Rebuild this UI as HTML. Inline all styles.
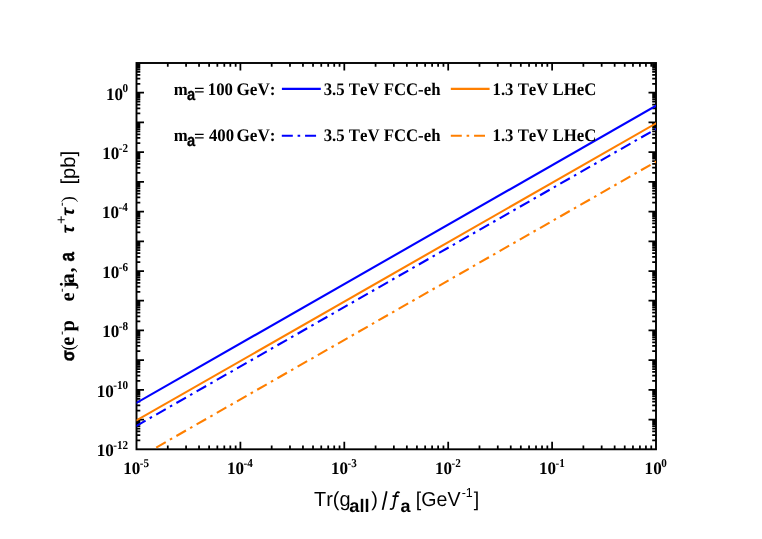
<!DOCTYPE html>
<html><head><meta charset="utf-8"><title>plot</title>
<style>
html,body{margin:0;padding:0;background:#fff;}
svg{display:block;will-change:transform;}
text{fill:#000;font-kerning:none;text-rendering:geometricPrecision;}
</style></head>
<body>
<svg width="762" height="539" viewBox="0 0 762 539">
<rect x="0" y="0" width="762" height="539" fill="#ffffff"/>
<defs><clipPath id="cp"><rect x="136.5" y="63.0" width="519.5" height="385.40"/></clipPath></defs>
<path d="M167.78 449.30L167.78 445.50M167.78 63.00L167.78 66.80M186.07 449.30L186.07 445.50M186.07 63.00L186.07 66.80M199.05 449.30L199.05 445.50M199.05 63.00L199.05 66.80M209.12 449.30L209.12 445.50M209.12 63.00L209.12 66.80M217.35 449.30L217.35 445.50M217.35 63.00L217.35 66.80M224.31 449.30L224.31 445.50M224.31 63.00L224.31 66.80M230.33 449.30L230.33 445.50M230.33 63.00L230.33 66.80M235.65 449.30L235.65 445.50M235.65 63.00L235.65 66.80M240.40 449.30L240.40 441.80M240.40 63.00L240.40 70.50M271.68 449.30L271.68 445.50M271.68 63.00L271.68 66.80M289.97 449.30L289.97 445.50M289.97 63.00L289.97 66.80M302.95 449.30L302.95 445.50M302.95 63.00L302.95 66.80M313.02 449.30L313.02 445.50M313.02 63.00L313.02 66.80M321.25 449.30L321.25 445.50M321.25 63.00L321.25 66.80M328.21 449.30L328.21 445.50M328.21 63.00L328.21 66.80M334.23 449.30L334.23 445.50M334.23 63.00L334.23 66.80M339.55 449.30L339.55 445.50M339.55 63.00L339.55 66.80M344.30 449.30L344.30 441.80M344.30 63.00L344.30 70.50M375.58 449.30L375.58 445.50M375.58 63.00L375.58 66.80M393.87 449.30L393.87 445.50M393.87 63.00L393.87 66.80M406.85 449.30L406.85 445.50M406.85 63.00L406.85 66.80M416.92 449.30L416.92 445.50M416.92 63.00L416.92 66.80M425.15 449.30L425.15 445.50M425.15 63.00L425.15 66.80M432.11 449.30L432.11 445.50M432.11 63.00L432.11 66.80M438.13 449.30L438.13 445.50M438.13 63.00L438.13 66.80M443.45 449.30L443.45 445.50M443.45 63.00L443.45 66.80M448.20 449.30L448.20 441.80M448.20 63.00L448.20 70.50M479.48 449.30L479.48 445.50M479.48 63.00L479.48 66.80M497.77 449.30L497.77 445.50M497.77 63.00L497.77 66.80M510.75 449.30L510.75 445.50M510.75 63.00L510.75 66.80M520.82 449.30L520.82 445.50M520.82 63.00L520.82 66.80M529.05 449.30L529.05 445.50M529.05 63.00L529.05 66.80M536.01 449.30L536.01 445.50M536.01 63.00L536.01 66.80M542.03 449.30L542.03 445.50M542.03 63.00L542.03 66.80M547.35 449.30L547.35 445.50M547.35 63.00L547.35 66.80M552.10 449.30L552.10 441.80M552.10 63.00L552.10 70.50M583.38 449.30L583.38 445.50M583.38 63.00L583.38 66.80M601.67 449.30L601.67 445.50M601.67 63.00L601.67 66.80M614.65 449.30L614.65 445.50M614.65 63.00L614.65 66.80M624.72 449.30L624.72 445.50M624.72 63.00L624.72 66.80M632.95 449.30L632.95 445.50M632.95 63.00L632.95 66.80M639.91 449.30L639.91 445.50M639.91 63.00L639.91 66.80M645.93 449.30L645.93 445.50M645.93 63.00L645.93 66.80M651.25 449.30L651.25 445.50M651.25 63.00L651.25 66.80M136.50 440.35L140.30 440.35M656.00 440.35L652.20 440.35M136.50 435.12L140.30 435.12M656.00 435.12L652.20 435.12M136.50 431.41L140.30 431.41M656.00 431.41L652.20 431.41M136.50 428.53L140.30 428.53M656.00 428.53L652.20 428.53M136.50 426.18L140.30 426.18M656.00 426.18L652.20 426.18M136.50 424.19L140.30 424.19M656.00 424.19L652.20 424.19M136.50 422.46L140.30 422.46M656.00 422.46L652.20 422.46M136.50 420.94L140.30 420.94M656.00 420.94L652.20 420.94M136.50 419.58L144.00 419.58M656.00 419.58L648.50 419.58M136.50 410.64L140.30 410.64M656.00 410.64L652.20 410.64M136.50 405.41L140.30 405.41M656.00 405.41L652.20 405.41M136.50 401.69L140.30 401.69M656.00 401.69L652.20 401.69M136.50 398.81L140.30 398.81M656.00 398.81L652.20 398.81M136.50 396.46L140.30 396.46M656.00 396.46L652.20 396.46M136.50 394.47L140.30 394.47M656.00 394.47L652.20 394.47M136.50 392.75L140.30 392.75M656.00 392.75L652.20 392.75M136.50 391.23L140.30 391.23M656.00 391.23L652.20 391.23M136.50 389.87L144.00 389.87M656.00 389.87L648.50 389.87M136.50 380.92L140.30 380.92M656.00 380.92L652.20 380.92M136.50 375.69L140.30 375.69M656.00 375.69L652.20 375.69M136.50 371.98L140.30 371.98M656.00 371.98L652.20 371.98M136.50 369.10L140.30 369.10M656.00 369.10L652.20 369.10M136.50 366.75L140.30 366.75M656.00 366.75L652.20 366.75M136.50 364.76L140.30 364.76M656.00 364.76L652.20 364.76M136.50 363.03L140.30 363.03M656.00 363.03L652.20 363.03M136.50 361.51L140.30 361.51M656.00 361.51L652.20 361.51M136.50 360.15L144.00 360.15M656.00 360.15L648.50 360.15M136.50 351.21L140.30 351.21M656.00 351.21L652.20 351.21M136.50 345.98L140.30 345.98M656.00 345.98L652.20 345.98M136.50 342.26L140.30 342.26M656.00 342.26L652.20 342.26M136.50 339.38L140.30 339.38M656.00 339.38L652.20 339.38M136.50 337.03L140.30 337.03M656.00 337.03L652.20 337.03M136.50 335.04L140.30 335.04M656.00 335.04L652.20 335.04M136.50 333.32L140.30 333.32M656.00 333.32L652.20 333.32M136.50 331.80L140.30 331.80M656.00 331.80L652.20 331.80M136.50 330.44L144.00 330.44M656.00 330.44L648.50 330.44M136.50 321.49L140.30 321.49M656.00 321.49L652.20 321.49M136.50 316.26L140.30 316.26M656.00 316.26L652.20 316.26M136.50 312.55L140.30 312.55M656.00 312.55L652.20 312.55M136.50 309.67L140.30 309.67M656.00 309.67L652.20 309.67M136.50 307.32L140.30 307.32M656.00 307.32L652.20 307.32M136.50 305.33L140.30 305.33M656.00 305.33L652.20 305.33M136.50 303.60L140.30 303.60M656.00 303.60L652.20 303.60M136.50 302.08L140.30 302.08M656.00 302.08L652.20 302.08M136.50 300.72L144.00 300.72M656.00 300.72L648.50 300.72M136.50 291.78L140.30 291.78M656.00 291.78L652.20 291.78M136.50 286.55L140.30 286.55M656.00 286.55L652.20 286.55M136.50 282.83L140.30 282.83M656.00 282.83L652.20 282.83M136.50 279.95L140.30 279.95M656.00 279.95L652.20 279.95M136.50 277.60L140.30 277.60M656.00 277.60L652.20 277.60M136.50 275.61L140.30 275.61M656.00 275.61L652.20 275.61M136.50 273.89L140.30 273.89M656.00 273.89L652.20 273.89M136.50 272.37L140.30 272.37M656.00 272.37L652.20 272.37M136.50 271.01L144.00 271.01M656.00 271.01L648.50 271.01M136.50 262.06L140.30 262.06M656.00 262.06L652.20 262.06M136.50 256.83L140.30 256.83M656.00 256.83L652.20 256.83M136.50 253.12L140.30 253.12M656.00 253.12L652.20 253.12M136.50 250.24L140.30 250.24M656.00 250.24L652.20 250.24M136.50 247.88L140.30 247.88M656.00 247.88L652.20 247.88M136.50 245.90L140.30 245.90M656.00 245.90L652.20 245.90M136.50 244.17L140.30 244.17M656.00 244.17L652.20 244.17M136.50 242.65L140.30 242.65M656.00 242.65L652.20 242.65M136.50 241.29L144.00 241.29M656.00 241.29L648.50 241.29M136.50 232.35L140.30 232.35M656.00 232.35L652.20 232.35M136.50 227.11L140.30 227.11M656.00 227.11L652.20 227.11M136.50 223.40L140.30 223.40M656.00 223.40L652.20 223.40M136.50 220.52L140.30 220.52M656.00 220.52L652.20 220.52M136.50 218.17L140.30 218.17M656.00 218.17L652.20 218.17M136.50 216.18L140.30 216.18M656.00 216.18L652.20 216.18M136.50 214.46L140.30 214.46M656.00 214.46L652.20 214.46M136.50 212.94L140.30 212.94M656.00 212.94L652.20 212.94M136.50 211.58L144.00 211.58M656.00 211.58L648.50 211.58M136.50 202.63L140.30 202.63M656.00 202.63L652.20 202.63M136.50 197.40L140.30 197.40M656.00 197.40L652.20 197.40M136.50 193.69L140.30 193.69M656.00 193.69L652.20 193.69M136.50 190.81L140.30 190.81M656.00 190.81L652.20 190.81M136.50 188.45L140.30 188.45M656.00 188.45L652.20 188.45M136.50 186.46L140.30 186.46M656.00 186.46L652.20 186.46M136.50 184.74L140.30 184.74M656.00 184.74L652.20 184.74M136.50 183.22L140.30 183.22M656.00 183.22L652.20 183.22M136.50 181.86L144.00 181.86M656.00 181.86L648.50 181.86M136.50 172.92L140.30 172.92M656.00 172.92L652.20 172.92M136.50 167.68L140.30 167.68M656.00 167.68L652.20 167.68M136.50 163.97L140.30 163.97M656.00 163.97L652.20 163.97M136.50 161.09L140.30 161.09M656.00 161.09L652.20 161.09M136.50 158.74L140.30 158.74M656.00 158.74L652.20 158.74M136.50 156.75L140.30 156.75M656.00 156.75L652.20 156.75M136.50 155.03L140.30 155.03M656.00 155.03L652.20 155.03M136.50 153.51L140.30 153.51M656.00 153.51L652.20 153.51M136.50 152.15L144.00 152.15M656.00 152.15L648.50 152.15M136.50 143.20L140.30 143.20M656.00 143.20L652.20 143.20M136.50 137.97L140.30 137.97M656.00 137.97L652.20 137.97M136.50 134.26L140.30 134.26M656.00 134.26L652.20 134.26M136.50 131.38L140.30 131.38M656.00 131.38L652.20 131.38M136.50 129.02L140.30 129.02M656.00 129.02L652.20 129.02M136.50 127.03L140.30 127.03M656.00 127.03L652.20 127.03M136.50 125.31L140.30 125.31M656.00 125.31L652.20 125.31M136.50 123.79L140.30 123.79M656.00 123.79L652.20 123.79M136.50 122.43L144.00 122.43M656.00 122.43L648.50 122.43M136.50 113.49L140.30 113.49M656.00 113.49L652.20 113.49M136.50 108.25L140.30 108.25M656.00 108.25L652.20 108.25M136.50 104.54L140.30 104.54M656.00 104.54L652.20 104.54M136.50 101.66L140.30 101.66M656.00 101.66L652.20 101.66M136.50 99.31L140.30 99.31M656.00 99.31L652.20 99.31M136.50 97.32L140.30 97.32M656.00 97.32L652.20 97.32M136.50 95.60L140.30 95.60M656.00 95.60L652.20 95.60M136.50 94.08L140.30 94.08M656.00 94.08L652.20 94.08M136.50 92.72L144.00 92.72M656.00 92.72L648.50 92.72M136.50 83.77L140.30 83.77M656.00 83.77L652.20 83.77M136.50 78.54L140.30 78.54M656.00 78.54L652.20 78.54M136.50 74.82L140.30 74.82M656.00 74.82L652.20 74.82M136.50 71.95L140.30 71.95M656.00 71.95L652.20 71.95M136.50 69.59L140.30 69.59M656.00 69.59L652.20 69.59M136.50 67.60L140.30 67.60M656.00 67.60L652.20 67.60M136.50 65.88L140.30 65.88M656.00 65.88L652.20 65.88M136.50 64.36L140.30 64.36M656.00 64.36L652.20 64.36" stroke="#000" stroke-width="1.75" fill="none"/>
<rect x="136.5" y="63.0" width="519.5" height="386.3" fill="none" stroke="#000" stroke-width="1.9"/>
<g clip-path="url(#cp)">
<line x1="136.0" y1="403.19" x2="657.0" y2="105.23" stroke="#0000ff" stroke-width="2.1" fill="none"/>
<line x1="136.0" y1="420.69" x2="657.0" y2="122.83" stroke="#ff7f00" stroke-width="2.1" fill="none"/>
<line x1="136.0" y1="426.09" x2="657.0" y2="128.43" stroke="#0000ff" stroke-width="2.1" stroke-dasharray="11 4.8 2.6 4.87" fill="none"/>
<line x1="136.0" y1="459.09" x2="657.0" y2="161.13" stroke="#ff7f00" stroke-width="2.1" stroke-dasharray="11 4.8 2.6 4.87" fill="none"/>
</g>
<text transform="translate(123.23,473.90) scale(0.97,1.001)" style='font-family:"Liberation Serif",serif;font-weight:bold;font-style:normal;font-size:17.6px'>10</text>
<text transform="translate(139.81,466.50) scale(0.93,1.001)" style='font-family:"Liberation Serif",serif;font-weight:bold;font-style:normal;font-size:12px'>-5</text>
<text transform="translate(227.03,473.90) scale(0.97,1.001)" style='font-family:"Liberation Serif",serif;font-weight:bold;font-style:normal;font-size:17.6px'>10</text>
<text transform="translate(243.61,466.50) scale(0.93,1.001)" style='font-family:"Liberation Serif",serif;font-weight:bold;font-style:normal;font-size:12px'>-4</text>
<text transform="translate(331.02,473.90) scale(0.97,1.001)" style='font-family:"Liberation Serif",serif;font-weight:bold;font-style:normal;font-size:17.6px'>10</text>
<text transform="translate(347.59,466.50) scale(0.93,1.001)" style='font-family:"Liberation Serif",serif;font-weight:bold;font-style:normal;font-size:12px'>-3</text>
<text transform="translate(434.97,473.90) scale(0.97,1.001)" style='font-family:"Liberation Serif",serif;font-weight:bold;font-style:normal;font-size:17.6px'>10</text>
<text transform="translate(451.54,466.50) scale(0.93,1.001)" style='font-family:"Liberation Serif",serif;font-weight:bold;font-style:normal;font-size:12px'>-2</text>
<text transform="translate(538.92,473.90) scale(0.97,1.001)" style='font-family:"Liberation Serif",serif;font-weight:bold;font-style:normal;font-size:17.6px'>10</text>
<text transform="translate(555.49,466.50) scale(0.93,1.001)" style='font-family:"Liberation Serif",serif;font-weight:bold;font-style:normal;font-size:12px'>-1</text>
<text transform="translate(644.61,473.90) scale(0.97,1.001)" style='font-family:"Liberation Serif",serif;font-weight:bold;font-style:normal;font-size:17.6px'>10</text>
<text transform="translate(661.16,466.50) scale(0.93,1.001)" style='font-family:"Liberation Serif",serif;font-weight:bold;font-style:normal;font-size:12px'>0</text>
<text transform="translate(96.72,456.20) scale(0.97,1.001)" style='font-family:"Liberation Serif",serif;font-weight:bold;font-style:normal;font-size:17.6px'>10</text>
<text transform="translate(113.29,448.80) scale(0.93,1.001)" style='font-family:"Liberation Serif",serif;font-weight:bold;font-style:normal;font-size:12px'>-12</text>
<text transform="translate(96.68,396.77) scale(0.97,1.001)" style='font-family:"Liberation Serif",serif;font-weight:bold;font-style:normal;font-size:17.6px'>10</text>
<text transform="translate(113.25,389.37) scale(0.93,1.001)" style='font-family:"Liberation Serif",serif;font-weight:bold;font-style:normal;font-size:12px'>-10</text>
<text transform="translate(102.20,337.34) scale(0.97,1.001)" style='font-family:"Liberation Serif",serif;font-weight:bold;font-style:normal;font-size:17.6px'>10</text>
<text transform="translate(118.77,329.94) scale(0.93,1.001)" style='font-family:"Liberation Serif",serif;font-weight:bold;font-style:normal;font-size:12px'>-8</text>
<text transform="translate(102.16,277.91) scale(0.97,1.001)" style='font-family:"Liberation Serif",serif;font-weight:bold;font-style:normal;font-size:17.6px'>10</text>
<text transform="translate(118.73,270.51) scale(0.93,1.001)" style='font-family:"Liberation Serif",serif;font-weight:bold;font-style:normal;font-size:12px'>-6</text>
<text transform="translate(102.03,218.48) scale(0.97,1.001)" style='font-family:"Liberation Serif",serif;font-weight:bold;font-style:normal;font-size:17.6px'>10</text>
<text transform="translate(118.60,211.08) scale(0.93,1.001)" style='font-family:"Liberation Serif",serif;font-weight:bold;font-style:normal;font-size:12px'>-4</text>
<text transform="translate(102.30,159.05) scale(0.97,1.001)" style='font-family:"Liberation Serif",serif;font-weight:bold;font-style:normal;font-size:17.6px'>10</text>
<text transform="translate(118.87,151.65) scale(0.93,1.001)" style='font-family:"Liberation Serif",serif;font-weight:bold;font-style:normal;font-size:12px'>-2</text>
<text transform="translate(105.99,99.62) scale(0.97,1.001)" style='font-family:"Liberation Serif",serif;font-weight:bold;font-style:normal;font-size:17.6px'>10</text>
<text transform="translate(122.54,92.22) scale(0.93,1.001)" style='font-family:"Liberation Serif",serif;font-weight:bold;font-style:normal;font-size:12px'>0</text>
<text transform="translate(173.76,94.90) scale(1.0,1.055)" style='font-family:"Liberation Serif",serif;font-weight:bold;font-style:normal;font-size:16.75px'>m</text>
<text transform="translate(186.98,99.60) scale(0.86,1.0)" style='font-family:"Liberation Sans",sans-serif;font-weight:bold;font-style:normal;font-size:17px;stroke:#000;stroke-width:0.3px'>a</text>
<text transform="translate(193.88,95.90) scale(1.12,1.055)" style='font-family:"Liberation Serif",serif;font-weight:bold;font-style:normal;font-size:16.75px'>=</text>
<text transform="translate(207.76,94.90) scale(1.0,1.055)" style='font-family:"Liberation Serif",serif;font-weight:bold;font-style:normal;font-size:16.75px'>100</text>
<text transform="translate(236.48,94.90) scale(1.025,1.055)" style='font-family:"Liberation Serif",serif;font-weight:bold;font-style:normal;font-size:16.75px'>GeV:</text>
<text transform="translate(323.68,94.90) scale(1.0,1.055)" style='font-family:"Liberation Serif",serif;font-weight:bold;font-style:normal;font-size:16.75px'>3.5 TeV FCC-eh</text>
<text transform="translate(492.56,94.90) scale(1.0,1.055)" style='font-family:"Liberation Serif",serif;font-weight:bold;font-style:normal;font-size:16.75px'>1.3 TeV LHeC</text>
<text transform="translate(173.76,141.10) scale(1.0,1.055)" style='font-family:"Liberation Serif",serif;font-weight:bold;font-style:normal;font-size:16.75px'>m</text>
<text transform="translate(186.98,145.80) scale(0.86,1.0)" style='font-family:"Liberation Sans",sans-serif;font-weight:bold;font-style:normal;font-size:17px;stroke:#000;stroke-width:0.3px'>a</text>
<text transform="translate(193.88,142.10) scale(1.12,1.055)" style='font-family:"Liberation Serif",serif;font-weight:bold;font-style:normal;font-size:16.75px'>=</text>
<text transform="translate(208.88,141.10) scale(1.0,1.055)" style='font-family:"Liberation Serif",serif;font-weight:bold;font-style:normal;font-size:16.75px'>400</text>
<text transform="translate(236.48,141.10) scale(1.025,1.055)" style='font-family:"Liberation Serif",serif;font-weight:bold;font-style:normal;font-size:16.75px'>GeV:</text>
<text transform="translate(323.68,141.10) scale(1.0,1.055)" style='font-family:"Liberation Serif",serif;font-weight:bold;font-style:normal;font-size:16.75px'>3.5 TeV FCC-eh</text>
<text transform="translate(492.56,141.10) scale(1.0,1.055)" style='font-family:"Liberation Serif",serif;font-weight:bold;font-style:normal;font-size:16.75px'>1.3 TeV LHeC</text>
<line x1="281.9" y1="88.9" x2="320.8" y2="88.9" stroke="#0000ff" stroke-width="2.1"/>
<line x1="450.8" y1="88.9" x2="489.6" y2="88.9" stroke="#ff7f00" stroke-width="2.1"/>
<line x1="281.8" y1="135.7" x2="316.4" y2="135.7" stroke="#0000ff" stroke-width="2.1" stroke-dasharray="11 4.8 2.6 4.87"/>
<line x1="450.8" y1="135.7" x2="485.0" y2="135.7" stroke="#ff7f00" stroke-width="2.1" stroke-dasharray="11 4.8 2.6 4.87"/>
<text transform="translate(314.06,505.50) scale(1.0,1.03)" style='font-family:"Liberation Sans",sans-serif;font-weight:normal;font-style:normal;font-size:19.9px'>Tr(g</text>
<text x="349.37" y="512.00" style='font-family:"Liberation Sans",sans-serif;font-weight:bold;font-style:normal;font-size:18.2px'>all</text>
<text transform="translate(371.30,505.50) scale(1.0,1.03)" style='font-family:"Liberation Sans",sans-serif;font-weight:normal;font-style:normal;font-size:19.9px'>)</text>
<line x1="382.6" y1="509.85" x2="386.7" y2="491.25" stroke="#000" stroke-width="1.8"/>
<path d="M399.5 493.0 C399.0 492.3 398.3 492.1 397.6 492.2 C396.6 492.4 396.1 493.2 395.85 494.4 L393.65 506.6 C393.35 508.1 392.8 508.9 391.8 509.0 C391.0 509.1 390.3 508.9 389.9 508.6 M392.5 496.2 L398.7 496.2" fill="none" stroke="#000" stroke-width="1.7" stroke-linejoin="round"/>
<text x="400.38" y="511.60" style='font-family:"Liberation Sans",sans-serif;font-weight:bold;font-style:normal;font-size:17.9px'>a</text>
<text transform="translate(415.81,505.50) scale(1.0,1.03)" style='font-family:"Liberation Sans",sans-serif;font-weight:normal;font-style:normal;font-size:19.6px'>[GeV</text>
<text transform="translate(461.65,496.50) scale(1.0,1.04)" style='font-family:"Liberation Sans",sans-serif;font-weight:normal;font-style:normal;font-size:12.5px'>-1</text>
<text transform="translate(473.76,505.50) scale(1.0,1.03)" style='font-family:"Liberation Sans",sans-serif;font-weight:normal;font-style:normal;font-size:19.6px'>]</text>
<g transform="translate(74.2,0) rotate(-90)">
<text transform="translate(-361.23,0.00) scale(0.91,1.0)" style='font-family:"Liberation Sans",sans-serif;font-weight:bold;font-style:normal;font-size:17.8px;stroke:#000;stroke-width:0.5px'>σ</text>
<text x="-350.39" y="0.00" style='font-family:"Liberation Serif",serif;font-weight:normal;font-style:normal;font-size:18.4px'>(</text>
<text x="-345.80" y="0.00" style='font-family:"Liberation Serif",serif;font-weight:bold;font-style:normal;font-size:20.5px'>e</text>
<text x="-335.11" y="-9.70" style='font-family:"Liberation Serif",serif;font-weight:bold;font-style:normal;font-size:11.5px'>-</text>
<text x="-331.45" y="0.00" style='font-family:"Liberation Serif",serif;font-weight:bold;font-style:normal;font-size:20.5px'>p</text>
<text x="-301.40" y="0.00" style='font-family:"Liberation Serif",serif;font-weight:bold;font-style:normal;font-size:20.5px'>e</text>
<text x="-292.21" y="-9.70" style='font-family:"Liberation Serif",serif;font-weight:bold;font-style:normal;font-size:11.5px'>-</text>
<text x="-288.22" y="0.00" style='font-family:"Liberation Serif",serif;font-weight:bold;font-style:normal;font-size:20.5px'>j</text>
<text x="-283.56" y="0.00" style='font-family:"Liberation Serif",serif;font-weight:bold;font-style:normal;font-size:20.5px'>a</text>
<text x="-272.57" y="0.00" style='font-family:"Liberation Serif",serif;font-weight:bold;font-style:normal;font-size:20.5px'>,</text>
<text transform="translate(-261.50,0.00) scale(0.83,1.0)" style='font-family:"Liberation Sans",sans-serif;font-weight:bold;font-style:normal;font-size:20.6px;stroke:#000;stroke-width:0.4px'>a</text>
<text transform="translate(-233.43,0.00) scale(1.1,1.0)" style='font-family:"Liberation Sans",sans-serif;font-weight:bold;font-style:italic;font-size:18px'>τ</text>
<text x="-223.90" y="-8.00" style='font-family:"Liberation Sans",sans-serif;font-weight:normal;font-style:normal;font-size:14.6px'>+</text>
<text transform="translate(-216.03,0.00) scale(1.1,1.0)" style='font-family:"Liberation Sans",sans-serif;font-weight:bold;font-style:italic;font-size:18px'>τ</text>
<text x="-206.21" y="-9.50" style='font-family:"Liberation Serif",serif;font-weight:bold;font-style:normal;font-size:11.5px'>-</text>
<text x="-202.29" y="0.00" style='font-family:"Liberation Serif",serif;font-weight:normal;font-style:normal;font-size:18.4px'>)</text>
<text x="-184.53" y="0.80" style='font-family:"Liberation Sans",sans-serif;font-weight:normal;font-style:normal;font-size:20.2px'>[pb]</text>
</g>
</svg>
</body></html>
